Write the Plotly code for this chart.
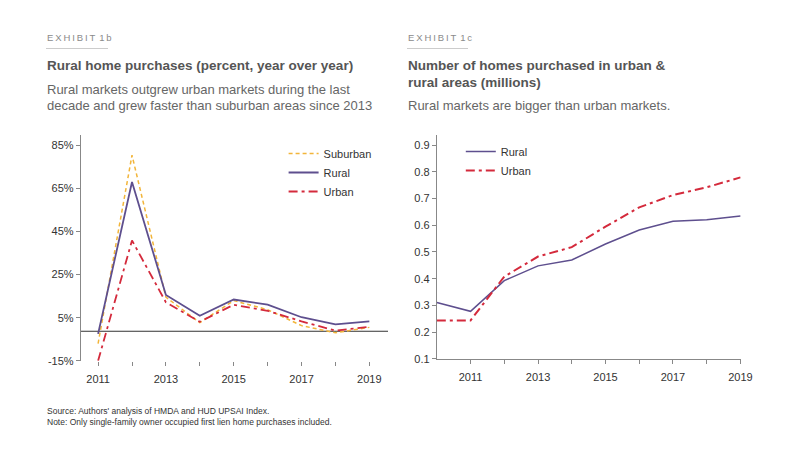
import plotly.graph_objects as go

# Exhibit 1b: year-over-year change in home purchases (%)
years_b = [2011, 2012, 2013, 2014, 2015, 2016, 2017, 2018, 2019]
suburban_pct = [-7.0, 80.3, 14.5, 2.7, 12.9, 8.7, 1.3, -2.0, 0.5]
rural_pct = [-2.5, 67.9, 15.5, 5.9, 13.4, 11.0, 5.2, 1.9, 3.3]
urban_pct = [-15.0, 40.8, 12.1, 3.1, 11.0, 8.2, 3.3, -1.0, 0.8]

# Exhibit 1c: number of homes purchased (millions)
years_c = [2010, 2011, 2012, 2013, 2014, 2015, 2016, 2017, 2018, 2019]
rural_mil = [0.311, 0.278, 0.393, 0.448, 0.470, 0.530, 0.582, 0.615, 0.621, 0.635]
urban_mil = [0.244, 0.244, 0.408, 0.483, 0.518, 0.595, 0.667, 0.713, 0.742, 0.779]

year_ticks = [2011, 2012, 2013, 2014, 2015, 2016, 2017, 2018, 2019]
year_labels = ["2011", "", "2013", "", "2015", "", "2017", "", "2019"]
pct_ticks = [85, 65, 45, 25, 5, -15]
pct_labels = ["85%", "65%", "45%", "25%", "5%", "-15%"]
mil_ticks = [0.9, 0.8, 0.7, 0.6, 0.5, 0.4, 0.3, 0.2, 0.1]

PURPLE = "#5e4f8e"
RED = "#d42a3c"
GOLD = "#f2b53a"
FONT = "Liberation Sans, Arial, sans-serif"

fig = go.Figure()

# Left chart
fig.add_trace(go.Scatter(
    x=years_b, y=suburban_pct, mode="lines", name="Suburban",
    line=dict(color=GOLD, width=1.5, dash="4px,3px"),
    xaxis="x", yaxis="y", legend="legend",
))
fig.add_trace(go.Scatter(
    x=years_b, y=rural_pct, mode="lines", name="Rural",
    line=dict(color=PURPLE, width=1.8),
    xaxis="x", yaxis="y", legend="legend",
))
fig.add_trace(go.Scatter(
    x=years_b, y=urban_pct, mode="lines", name="Urban",
    line=dict(color=RED, width=1.8, dash="9px,4px,3px,4px"),
    xaxis="x", yaxis="y", legend="legend",
))

# Right chart
fig.add_trace(go.Scatter(
    x=years_c, y=rural_mil, mode="lines", name="Rural",
    line=dict(color=PURPLE, width=1.5),
    xaxis="x2", yaxis="y2", legend="legend2",
))
fig.add_trace(go.Scatter(
    x=years_c, y=urban_mil, mode="lines", name="Urban",
    line=dict(color=RED, width=2, dash="9px,4px,3px,4px"),
    xaxis="x2", yaxis="y2", legend="legend2",
))

tick_font = dict(family=FONT, size=11, color="#333333")
axis_common = dict(
    showgrid=False, zeroline=False, ticks="outside", ticklen=4,
    tickcolor="#888888", tickfont=tick_font, fixedrange=True,
    automargin=False,
)

fig.update_layout(
    width=800, height=476,
    margin=dict(l=0, r=0, t=0, b=0, autoexpand=False),
    paper_bgcolor="white", plot_bgcolor="white",
    font=dict(family=FONT, color="#333333"),
    xaxis=dict(
        domain=[0.101, 0.485], range=[2010.49, 2019.55],
        tickmode="array", tickvals=year_ticks, ticktext=year_labels,
        showline=False, anchor="y", ticklabelstandoff=4, **axis_common,
    ),
    yaxis=dict(
        domain=[0.242, 0.716], range=[-15, 89.6],
        tickmode="array", tickvals=pct_ticks, ticktext=pct_labels,
        showline=True, linecolor="#888888", linewidth=1, anchor="x",
        **axis_common,
    ),
    xaxis2=dict(
        domain=[0.546, 0.926], range=[2010, 2019.01],
        tickmode="array", tickvals=year_ticks, ticktext=year_labels,
        showline=True, linecolor="#888888", linewidth=1, anchor="y2",
        ticklabelstandoff=4, **axis_common,
    ),
    yaxis2=dict(
        domain=[0.246, 0.716], range=[0.1, 0.937],
        tickmode="array", tickvals=mil_ticks, tickformat=".1f",
        showline=True, linecolor="#888888", linewidth=1, anchor="x2",
        **axis_common,
    ),
    legend=dict(
        x=0.3545, y=0.708, xanchor="left", yanchor="top",
        font=dict(family=FONT, size=11, color="#333333"),
        bgcolor="rgba(0,0,0,0)", tracegroupgap=0, itemwidth=30,
    ),
    legend2=dict(
        x=0.576, y=0.712, xanchor="left", yanchor="top",
        font=dict(family=FONT, size=11, color="#333333"),
        bgcolor="rgba(0,0,0,0)", tracegroupgap=0, itemwidth=30,
    ),
    showlegend=True,
)

# Horizontal baseline across the left chart
fig.add_shape(
    type="line", xref="x domain", yref="y", x0=0, x1=1, y0=-1.3, y1=-1.3,
    line=dict(color="#333333", width=1), layer="below",
)


def add_text(x, y, text, size, color, bold=False):
    fig.add_annotation(
        x=x / 800, y=1 - y / 476, xref="paper", yref="paper",
        xanchor="left", yanchor="middle", showarrow=False, align="left",
        text=f"<b>{text}</b>" if bold else text,
        font=dict(family=FONT, size=size, color=color),
    )


def spaced(s):
    # small letter spacing for the exhibit labels
    return "\u2009\u2009".join("\u2009".join(word) for word in s.split(" "))


add_text(45, 38, spaced("EXHIBIT 1b"), 9.5, "#8a8a8a")
add_text(406, 38, spaced("EXHIBIT 1c"), 9.5, "#8a8a8a")
for x0, x1 in [(46, 108), (407, 468)]:
    fig.add_shape(
        type="line", xref="paper", yref="paper",
        x0=x0 / 800, x1=x1 / 800, y0=1 - 48.5 / 476, y1=1 - 48.5 / 476,
        line=dict(color="#cccccc", width=1),
    )

add_text(45, 66, "Rural home purchases (percent, year over year)", 13.5, "#555555", bold=True)
add_text(45, 89, "Rural markets outgrew urban markets during the last", 13, "#666666")
add_text(45, 105, "decade and grew faster than suburban areas since 2013", 13, "#666666")

add_text(406, 66, "Number of homes purchased in urban &amp;", 13.5, "#555555", bold=True)
add_text(406, 82, "rural areas (millions)", 13.5, "#555555", bold=True)
add_text(406, 105, "Rural markets are bigger than urban markets.", 13, "#666666")

add_text(45, 411, "Source: Authors' analysis of HMDA and HUD UPSAI Index.", 8.5, "#333333")
add_text(45, 422, "Note: Only single-family owner occupied first lien home purchases included.", 8.5, "#333333")

# drop the browser's default page margin so the figure sits at the top-left corner
fig.write_html(
    "out.html",
    config={"displayModeBar": False},
    post_script="document.body.style.margin = '0';",
)
